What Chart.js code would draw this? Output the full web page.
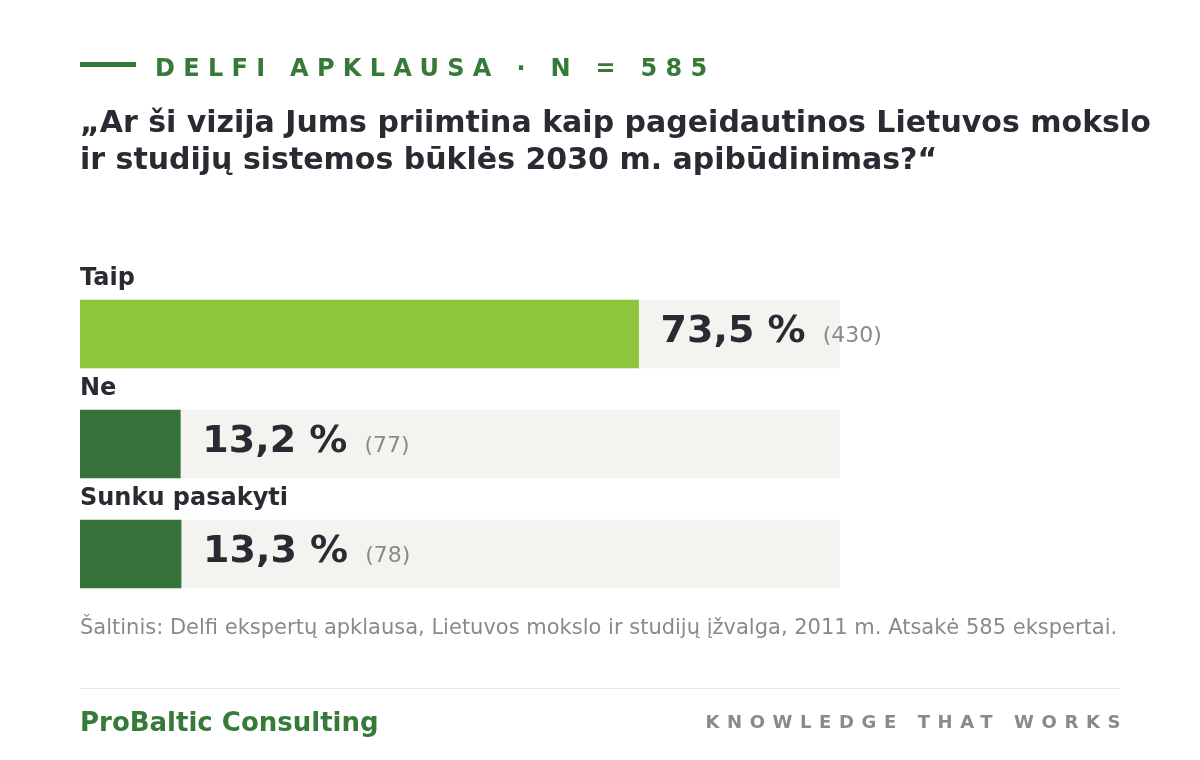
<!DOCTYPE html>
<html lang="lt">
<head>
<meta charset="utf-8">
<script src="https://cdn.jsdelivr.net/npm/chart.js@4/dist/chart.umd.min.js"></script>
<style>
  html, body { margin:0; padding:0; background:#ffffff; }
  body { width:1200px; height:760px; position:relative; overflow:hidden; font-family:"DejaVu Sans", sans-serif; }
  canvas#c { position:absolute; left:0; top:0; }
  .abs { position:absolute; white-space:nowrap; }
  #kicker-line { left:80px; top:62px; width:56px; height:5px; background:#357a38; }
  #kicker { left:155px; top:56px; font-size:24px; line-height:24px; font-weight:bold; color:#357a38; letter-spacing:8.3px; }
  #title { left:80px; top:103px; font-size:30px; line-height:37px; font-weight:bold; color:#2b2a33; }
  #source { left:80px; top:617px; font-size:21px; line-height:21px; color:#8a8a8a; }
  #rule { left:80px; top:688px; width:1040px; height:1px; background:#e6e6e6; }
  #brand { left:80px; top:709px; font-size:26px; line-height:26px; font-weight:bold; color:#357a38; }
  #tag { right:72px; top:713px; font-size:18px; line-height:18px; font-weight:bold; color:#8a8a8a; letter-spacing:7.6px; }
</style>
</head>
<body>
<canvas id="c" width="1200" height="760"></canvas>
<div class="abs" id="kicker-line"></div>
<div class="abs" id="kicker">DELFI APKLAUSA · N = 585</div>
<div class="abs" id="title">„Ar ši vizija Jums priimtina kaip pageidautinos Lietuvos mokslo<br>ir studijų sistemos būklės 2030 m. apibūdinimas?“</div>
<div class="abs" id="source">Šaltinis: Delfi ekspertų apklausa, Lietuvos mokslo ir studijų įžvalga, 2011 m. Atsakė 585 ekspertai.</div>
<div class="abs" id="rule"></div>
<div class="abs" id="brand">ProBaltic Consulting</div>
<div class="abs" id="tag">KNOWLEDGE THAT WORKS</div>
<script>
const categories = ["Taip", "Ne", "Sunku pasakyti"];
const percentages = [73.5, 13.2, 13.3];
const counts = [430, 77, 78];
const trackValues = [100, 100, 100];
const barColors = ["#8dc63a", "#35733a", "#35733a"];

const labelPlugin = {
  id: 'barLabels',
  afterDatasetsDraw(chart) {
    const ctx = chart.ctx;
    const meta = chart.getDatasetMeta(0);
    ctx.save();
    meta.data.forEach((bar, i) => {
      const top = bar.y - bar.height / 2;
      ctx.font = 'bold 24px "DejaVu Sans"';
      ctx.fillStyle = '#2b2a33';
      ctx.textAlign = 'left';
      ctx.textBaseline = 'alphabetic';
      ctx.fillText(categories[i], chart.chartArea.left, top - 15);
      const pctText = percentages[i].toFixed(1).replace('.', ',') + ' %';
      ctx.font = 'bold 38px "DejaVu Sans"';
      const x0 = bar.x + 22;
      const base = bar.y + 8;
      ctx.fillText(pctText, x0, base);
      const w = ctx.measureText(pctText).width;
      ctx.font = '22px "DejaVu Sans"';
      ctx.fillStyle = '#8a8a8a';
      ctx.fillText('(' + counts[i] + ')', x0 + w + 17, base);
    });
    ctx.restore();
  }
};

new Chart(document.getElementById('c'), {
  type: 'bar',
  data: {
    labels: categories,
    datasets: [
      { data: percentages, backgroundColor: barColors, barThickness: 68, grouped: false, order: 0, borderWidth: 0 },
      { data: trackValues, backgroundColor: '#f4f3ef', barThickness: 68, grouped: false, order: 1, borderWidth: 0 }
    ]
  },
  options: {
    indexAxis: 'y',
    responsive: false,
    animation: false,
    events: [],
    layout: { padding: { left: 80, right: 360, top: 279, bottom: 151 } },
    scales: {
      x: { display: false, min: 0, max: 100 },
      y: { display: false }
    },
    plugins: { legend: { display: false }, tooltip: { enabled: false } }
  },
  plugins: [labelPlugin]
});
</script>
</body>
</html>
